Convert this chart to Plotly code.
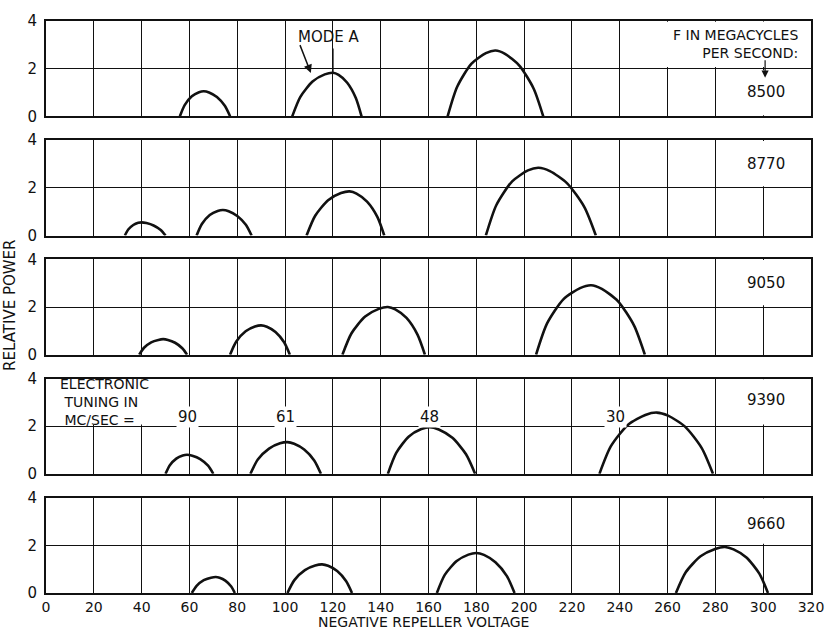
import plotly.graph_objects as go
from plotly.subplots import make_subplots

# ---------------- data ----------------
frequencies = ["8500", "8770", "9050", "9390", "9660"]

# each panel: list of arches (negative repeller voltage, relative power)
v_8500 = [[56, 58, 61, 64, 66, 68.2, 71.5, 74.8, 77],
          [103, 106.4, 111.5, 116.6, 120, 122.4, 126, 129.6, 132],
          [168, 172, 178, 184, 188, 192, 198, 204, 208]]
p_8500 = [[0, 0.47, 0.84, 1.01, 1.05, 1.00, 0.81, 0.44, 0],
          [0, 0.82, 1.46, 1.76, 1.83, 1.74, 1.41, 0.77, 0],
          [0, 1.24, 2.21, 2.65, 2.76, 2.62, 2.13, 1.16, 0]]

v_8770 = [[33, 34.4, 36.5, 38.6, 40, 42, 45, 48, 50],
          [63, 65.2, 68.5, 71.8, 74, 76.4, 80, 83.6, 86],
          [109, 112.6, 118, 123.4, 127, 129.9, 134.3, 138.6, 141.5],
          [184, 188.4, 195, 201.6, 206, 210.8, 218, 225.2, 230]]
p_8770 = [[0, 0.25, 0.44, 0.53, 0.55, 0.52, 0.42, 0.23, 0],
          [0, 0.48, 0.86, 1.03, 1.07, 1.02, 0.82, 0.45, 0],
          [0, 0.83, 1.48, 1.78, 1.85, 1.76, 1.42, 0.78, 0],
          [0, 1.28, 2.27, 2.73, 2.84, 2.70, 2.19, 1.19, 0]]

v_9050 = [[39, 41, 44, 47, 49, 51, 54, 57, 59],
          [77, 79.6, 83.5, 87.4, 90, 92.4, 96, 99.6, 102],
          [124, 127.8, 133.5, 139.2, 143, 146.1, 150.8, 155.4, 158.5],
          [205, 209.6, 216.5, 223.4, 228, 232.5, 239.3, 246, 250.5]]
p_9050 = [[0, 0.29, 0.52, 0.62, 0.65, 0.62, 0.50, 0.27, 0],
          [0, 0.55, 0.98, 1.18, 1.23, 1.17, 0.95, 0.52, 0],
          [0, 0.90, 1.60, 1.92, 2.00, 1.90, 1.54, 0.84, 0],
          [0, 1.31, 2.33, 2.79, 2.91, 2.76, 2.24, 1.22, 0]]

v_9390 = [[50, 51.8, 54.5, 57.2, 59, 61.2, 64.5, 67.8, 70],
          [85.5, 88.6, 93.3, 97.9, 101, 103.8, 108, 112.2, 115],
          [143, 146.5, 151.8, 157, 160.5, 164.3, 170, 175.7, 179.5],
          [231.5, 236.3, 243.5, 250.7, 255.5, 260.2, 267.3, 274.3, 279]]
p_9390 = [[0, 0.36, 0.64, 0.77, 0.80, 0.76, 0.62, 0.34, 0],
          [0, 0.60, 1.06, 1.28, 1.33, 1.26, 1.02, 0.56, 0],
          [0, 0.88, 1.57, 1.88, 1.96, 1.86, 1.51, 0.82, 0],
          [0, 1.16, 2.06, 2.47, 2.57, 2.44, 1.98, 1.08, 0]]

v_9660 = [[61, 63, 66, 69, 71, 72.6, 75, 77.4, 79],
          [101, 103.9, 108.3, 112.6, 115.5, 118, 121.8, 125.5, 128],
          [163.5, 166.8, 171.8, 176.7, 180, 183.2, 188, 192.8, 196],
          [263.5, 267.6, 273.8, 279.9, 284, 287.6, 293, 298.4, 302]]
p_9660 = [[0, 0.30, 0.54, 0.64, 0.67, 0.64, 0.52, 0.28, 0],
          [0, 0.54, 0.96, 1.15, 1.20, 1.14, 0.92, 0.50, 0],
          [0, 0.76, 1.34, 1.61, 1.68, 1.60, 1.29, 0.71, 0],
          [0, 0.87, 1.54, 1.85, 1.93, 1.83, 1.49, 0.81, 0]]

panel_v = [v_8500, v_8770, v_9050, v_9390, v_9660]
panel_p = [p_8500, p_8770, p_9050, p_9390, p_9660]

tuning_labels = ["90", "61", "48", "30"]
tuning_x = [59, 100, 160.5, 238.3]
tuning_y = [2.39, 2.39, 2.37, 2.37]

x_ticks = list(range(0, 321, 20))
y_ticks = [0, 2, 4]

# ---------------- figure ----------------
FONT = "DejaVu Sans"
INK = "#111111"

fig = make_subplots(rows=5, cols=1, shared_xaxes=True,
                    vertical_spacing=24 / 576)

for i in range(5):
    row = i + 1
    for xs, ys in zip(panel_v[i], panel_p[i]):
        fig.add_trace(go.Scatter(x=xs, y=ys, mode="lines",
                                 line=dict(color=INK, width=2.6, shape="spline",
                                           smoothing=0.7),
                                 showlegend=False, hoverinfo="skip"),
                      row=row, col=1)
    fig.update_yaxes(range=[0, 4], tickvals=y_ticks, ticktext=[str(t) for t in y_ticks],
                     showgrid=True, gridcolor=INK, gridwidth=1.3,
                     showline=True, linecolor=INK, linewidth=2, mirror=True,
                     zeroline=False, ticks="", ticklabelstandoff=4,
                     tickfont=dict(family=FONT, size=15, color=INK),
                     row=row, col=1)
    fig.update_xaxes(range=[0, 320], tickvals=x_ticks,
                     showgrid=True, gridcolor=INK, gridwidth=1.3,
                     showline=True, linecolor=INK, linewidth=2, mirror=True,
                     zeroline=False, ticks="",
                     tickfont=dict(family=FONT, size=14, color=INK),
                     row=row, col=1)

shapes = []
annotations = []

def ax_names(i):
    s = "" if i == 0 else str(i + 1)
    return "x" + s, "y" + s

# white cover boxes behind labels (hide grid lines)
for i in range(5):
    xr, yr = ax_names(i)
    shapes.append(dict(type="rect", xref=xr, yref=yr, x0=281, x1=319.5,
                       y0=2.07, y1=3.97, fillcolor="white",
                       line=dict(width=0), layer="between"))
# panel 1: bigger legend box and lower gap at 300
shapes.append(dict(type="rect", xref="x", yref="y", x0=241, x1=319.5,
                   y0=2.07, y1=3.97, fillcolor="white",
                   line=dict(width=0), layer="between"))
shapes.append(dict(type="rect", xref="x", yref="y", x0=281, x1=319.5,
                   y0=0.05, y1=1.93, fillcolor="white",
                   line=dict(width=0), layer="between"))
# panel 4: electronic tuning box
shapes.append(dict(type="rect", xref="x4", yref="y4", x0=0.5, x1=52,
                   y0=2.07, y1=3.97, fillcolor="white",
                   line=dict(width=0), layer="between"))
# Mode A marker line
shapes.append(dict(type="line", xref="x", yref="y", x0=120, x1=120,
                   y0=2.85, y1=1.83, line=dict(color=INK, width=1.5)))

# frequency labels
freq_y = [1.04, 3.0, 3.02, 3.1, 2.88]
for i in range(5):
    xr, yr = ax_names(i)
    annotations.append(dict(xref=xr, yref=yr, x=301, y=freq_y[i],
                            text=frequencies[i], showarrow=False,
                            font=dict(family=FONT, size=15, color=INK)))

# F in megacycles legend (one two-line text)
annotations.append(dict(xref="x", yref="y", x=315.4, y=3.04,
                        xanchor="right", yanchor="middle", align="right",
                        text="F IN MEGACYCLES<br>PER SECOND:",
                        showarrow=False, font=dict(family=FONT, size=14, color=INK)))
annotations.append(dict(xref="x", yref="y", x=300.8, y=1.62, axref="x", ayref="y",
                        ax=300.8, ay=2.42, text="", showarrow=True, arrowhead=2,
                        arrowsize=1.2, arrowwidth=1.2, arrowcolor=INK))

# Mode A
annotations.append(dict(xref="x", yref="y", x=118.5, y=3.33, text="MODE A",
                        showarrow=False, font=dict(family=FONT, size=15, color=INK)))
annotations.append(dict(xref="x", yref="y", x=110.8, y=1.82, axref="x", ayref="y",
                        ax=106, ay=3.05, text="", showarrow=True, arrowhead=2,
                        arrowsize=1.1, arrowwidth=1.5, arrowcolor=INK))

# Electronic tuning legend (one three-line text)
annotations.append(dict(xref="x4", yref="y4", x=5, y=3.0,
                        xanchor="left", yanchor="middle", align="left",
                        text="ELECTRONIC<br> TUNING IN<br> MC/SEC =",
                        showarrow=False, font=dict(family=FONT, size=14, color=INK)))
for lab, xx, yy in zip(tuning_labels, tuning_x, tuning_y):
    annotations.append(dict(xref="x4", yref="y4", x=xx, y=yy, text=lab,
                            showarrow=False, bgcolor="white", borderpad=1,
                            font=dict(family=FONT, size=15, color=INK)))

# axis titles
annotations.append(dict(xref="paper", yref="paper", x=0.494, y=-(29.5 / 576),
                        xanchor="center", yanchor="middle",
                        text="NEGATIVE REPELLER VOLTAGE", showarrow=False,
                        font=dict(family=FONT, size=14, color=INK)))
annotations.append(dict(xref="paper", yref="paper", x=-0.047, y=0.502,
                        xanchor="center", yanchor="middle",
                        text="RELATIVE POWER", textangle=-90, showarrow=False,
                        font=dict(family=FONT, size=15, color=INK)))

fig.update_layout(width=836, height=630,
                  margin=dict(l=46, r=18, t=17, b=37),
                  paper_bgcolor="white", plot_bgcolor="white",
                  shapes=shapes, annotations=annotations,
                  showlegend=False,
                  font=dict(family=FONT, size=15, color=INK))

fig.write_html("out.html")
